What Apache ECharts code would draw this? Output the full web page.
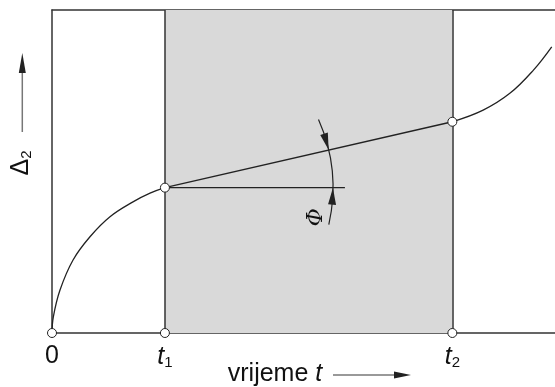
<!DOCTYPE html>
<html>
<head>
<meta charset="utf-8">
<script src="https://cdn.jsdelivr.net/npm/echarts@6/dist/echarts.min.js"></script>
<style>
  html, body { margin: 0; padding: 0; background: #fff; }
  #main { width: 555px; height: 387px; }
</style>
</head>
<body>
<div id="main"></div>
<script>
// positions on the time axis
const t1 = 11;
const t2 = 39;
const xMax = 49;
// Δ2 over time: primary part (0 -> t1), steady part (t1 -> t2), tertiary part (after t2)
const curveStart = [[0, 0], [0.13, 5.0], [0.78, 13.3], [2.05, 22.6], [3.7, 29.8], [5.65, 36.0], [7.89, 40.6], [9.55, 43.3], [11, 45.0]];
const curveMid = [[11, 45.0], [39, 65.4]];
const curveEnd = [[39, 65.4], [42.0, 69.0], [44.6, 74.2], [46.9, 81.4], [48.68, 88.6]];
const openPoints = [[0, 0], [11, 0], [39, 0], [11, 45.0], [39, 65.4]];
const tickLabels = { 0: '0', 11: '{t|t}{s|1}', 39: '{t|t}{s|2}' };

const ink = '#222';
const sans = 'Liberation Sans';

const chart = echarts.init(document.getElementById('main'));

const option = {
  animation: false,
  grid: { left: 52, right: 0, top: 10, bottom: 54, outerBoundsMode: 'none', containLabel: false },
  xAxis: [
    {
      type: 'value', min: 0, max: xMax, interval: 1,
      axisLine: { lineStyle: { color: '#333', width: 1.5 } },
      axisTick: { show: false },
      splitLine: { show: false },
      axisLabel: {
        margin: 11,
        formatter: v => tickLabels[v] || '',
        color: '#111', fontFamily: sans, fontSize: 25,
        rich: {
          t: { fontFamily: sans, fontSize: 25, fontStyle: 'italic', color: '#111', lineHeight: 26 },
          s: { fontFamily: sans, fontSize: 15, color: '#111', lineHeight: 12, verticalAlign: 'bottom' }
        }
      },
      name: '{a|vrijeme }{b|t}',
      nameLocation: 'middle',
      nameGap: 29,
      nameMoveOverlap: false,
      nameTextStyle: {
        padding: [0, 57, 0, 0],
        rich: {
          a: { fontFamily: sans, fontSize: 25, color: '#111' },
          b: { fontFamily: sans, fontSize: 25, fontStyle: 'italic', color: '#111' }
        }
      }
    },
    {
      type: 'value', min: 0, max: xMax, position: 'top',
      axisLine: { show: true, lineStyle: { color: '#333', width: 1.5 } },
      axisTick: { show: false }, axisLabel: { show: false }, splitLine: { show: false }
    }
  ],
  yAxis: {
    type: 'value', min: 0, max: 100,
    axisLine: { show: true, lineStyle: { color: '#333', width: 1.5 } },
    axisTick: { show: false }, axisLabel: { show: false }, splitLine: { show: false }
  },
  graphic: [
    {
      type: 'text', x: 21, y: 163, rotation: Math.PI / 2,
      style: {
        text: '{d|Δ}{s|2}', align: 'center', verticalAlign: 'middle',
        rich: {
          d: { fontFamily: sans, fontSize: 25, fill: '#111', lineHeight: 26 },
          s: { fontFamily: sans, fontSize: 15, fill: '#111', lineHeight: 12, verticalAlign: 'bottom' }
        }
      }
    },
    { type: 'line', shape: { x1: 22.3, y1: 132, x2: 22.3, y2: 70 }, style: { stroke: '#777', lineWidth: 1.5 } },
    { type: 'polygon', shape: { points: [[22.3, 53], [18.8, 73], [25.8, 73]] }, style: { fill: ink } },
    { type: 'line', shape: { x1: 333, y1: 375, x2: 396, y2: 375 }, style: { stroke: '#777', lineWidth: 1.5 } },
    { type: 'polygon', shape: { points: [[411, 375], [394, 371.5], [394, 378.5]] }, style: { fill: ink } }
  ],
  series: [
    {
      // shaded steady-state interval with its boundaries
      type: 'line', data: [], z: 1,
      markArea: {
        silent: true,
        itemStyle: { color: '#d9d9d9' },
        data: [[{ xAxis: t1 }, { xAxis: t2 }]]
      },
      markLine: {
        silent: true, symbol: 'none',
        label: { show: false },
        lineStyle: { color: '#333', width: 1.5, type: 'solid' },
        data: [{ xAxis: t1 }, { xAxis: t2 }]
      }
    },
    {
      type: 'line', data: curveStart, smooth: 0.4, showSymbol: false, z: 3,
      lineStyle: { color: ink, width: 1.3 }
    },
    {
      type: 'line', data: curveMid, showSymbol: false, z: 3,
      lineStyle: { color: ink, width: 1.3 }
    },
    {
      type: 'line', data: curveEnd, smooth: 0.4, showSymbol: false, z: 3,
      lineStyle: { color: ink, width: 1.3 }
    },
    {
      // angle Φ between the horizontal and the steady creep line
      type: 'custom', z: 4,
      data: [[t1, 45.0, t2, 65.4]],
      renderItem: (params, api) => {
        const c = api.coord([api.value(0), api.value(1)]);
        const e = api.coord([api.value(2), api.value(3)]);
        const phi = Math.atan2(c[1] - e[1], e[0] - c[0]);
        const deg = Math.PI / 180;
        const r = 168;
        const top = phi + 11 * deg;
        const bottom = -12.7 * deg;
        const head = 17 / r;
        const hw = 4;
        const pt = (a, rr) => [c[0] + rr * Math.cos(a), c[1] - rr * Math.sin(a)];
        return {
          type: 'group',
          children: [
            { type: 'line', shape: { x1: c[0], y1: c[1], x2: c[0] + 180, y2: c[1] }, style: { stroke: ink, lineWidth: 1.2 } },
            { type: 'arc', shape: { cx: c[0], cy: c[1], r: r, startAngle: -top, endAngle: -bottom, clockwise: true }, style: { fill: null, stroke: ink, lineWidth: 1.2 } },
            { type: 'polygon', shape: { points: [pt(phi, r), pt(phi + head, r - hw), pt(phi + head, r + hw)] }, style: { fill: ink } },
            { type: 'polygon', shape: { points: [pt(0, r), pt(-head, r - hw), pt(-head, r + hw)] }, style: { fill: ink } },
            {
              type: 'text', x: c[0] + 151, y: c[1] + 29.5, rotation: Math.PI / 2,
              style: { text: 'Φ', fontFamily: 'DejaVu Serif', fontStyle: 'italic', fontSize: 22, fill: '#111', align: 'center', verticalAlign: 'middle' }
            }
          ]
        };
      }
    },
    {
      type: 'scatter', data: openPoints, symbol: 'circle', symbolSize: 9, z: 5,
      itemStyle: { color: '#fff', borderColor: ink, borderWidth: 1, opacity: 1 }
    }
  ]
};

chart.setOption(option);
</script>
</body>
</html>
